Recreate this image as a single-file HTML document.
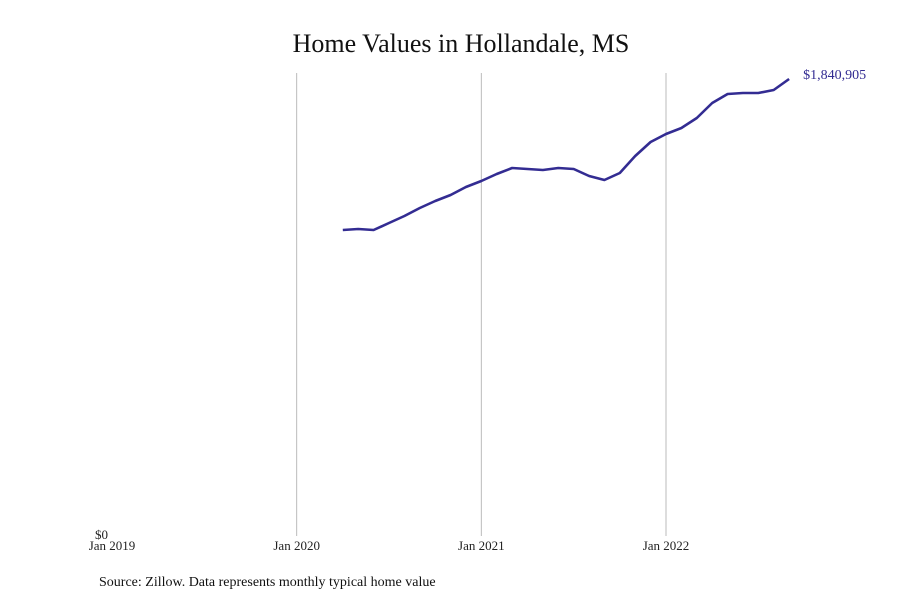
<!DOCTYPE html>
<html><head><meta charset="utf-8"><style>
body{margin:0;background:#fff;}
svg{display:block;font-family:"Liberation Serif",serif;}
</style></head><body>
<svg id="chart" width="900" height="600">
<text x="461" y="52" text-anchor="middle" font-size="26" fill="#111">Home Values in Hollandale, MS</text>
<g id="grid"></g>
<g id="xlabels"></g>
<text x="108" y="539" text-anchor="end" font-size="13" fill="#222">$0</text>
<path id="line" fill="none" stroke="#332c92" stroke-width="2.6" stroke-linejoin="round"/>
<text id="endlabel" font-size="14" fill="#332c92"></text>
<text x="99" y="586" font-size="14" fill="#111">Source: Zillow. Data represents monthly typical home value</text>
</svg>
<script>
const tickLabels = ["Jan 2019","Jan 2020","Jan 2021","Jan 2022"];
const startMonthIndex = 15; // months after Jan 2019 (Apr 2020)
const values = [1231300,1235350,1231300,1259570,1287830,1320130,1348390,1372600,1404900,1429130,1457390,1481610,1477580,1473540,1481610,1477580,1449320,1433170,1461430,1530060,1586580,1618870,1643100,1683470,1744030,1780360,1784400,1784400,1796510,1840905];
const x0=112, pxPerMonth=(666-112)/36, yBase=535, yTop=79, maxV=1840905;
const xs = m => x0 + m*pxPerMonth;
const ys = v => yBase - v/maxV*(yBase-yTop);
const ns="http://www.w3.org/2000/svg";
const grid=document.getElementById('grid'), xl=document.getElementById('xlabels');
tickLabels.forEach((t,i)=>{
  const x=xs(i*12);
  if(i>0){
    const l=document.createElementNS(ns,'line');
    l.setAttribute('x1',x);l.setAttribute('x2',x);l.setAttribute('y1',73);l.setAttribute('y2',536);
    l.setAttribute('stroke','#bbb');l.setAttribute('stroke-width','1');
    
    
    grid.appendChild(l);
  }
  const tx=document.createElementNS(ns,'text');
  tx.setAttribute('x',x);tx.setAttribute('y',550);tx.setAttribute('text-anchor','middle');
  tx.setAttribute('font-size','13');tx.setAttribute('fill','#222');
  tx.textContent=t;
  
  
  xl.appendChild(tx);
});
const d=values.map((v,i)=>(i?'L':'M')+xs(startMonthIndex+i).toFixed(1)+','+ys(v).toFixed(1)).join(' ');
document.getElementById('line').setAttribute('d',d);
const last=values[values.length-1], el=document.getElementById('endlabel');
el.setAttribute('x',xs(startMonthIndex+values.length-1)+14);
el.setAttribute('y',ys(last)+0);
el.textContent='$'+last.toLocaleString('en-US');
</script>
</body></html>
